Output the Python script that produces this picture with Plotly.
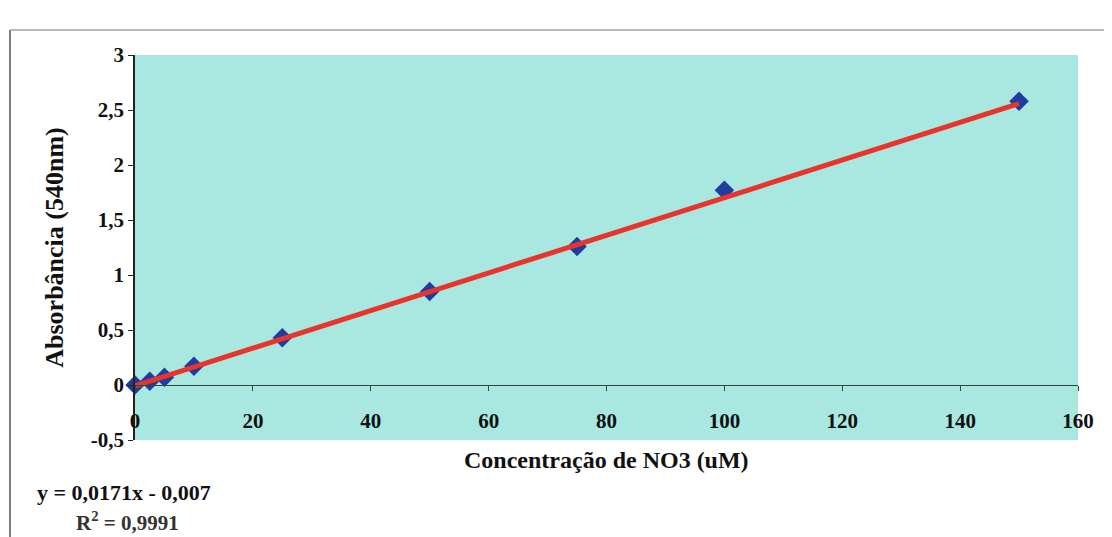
import plotly.graph_objects as go

# Data
concentration_uM = [0, 2.5, 5, 10, 25, 50, 75, 100, 150]
absorbance_540nm = [0, 0.035, 0.07, 0.17, 0.43, 0.85, 1.26, 1.77, 2.58]

# Linear trendline shown on the chart: y = 0,0171x - 0,007
trend_slope = 0.0171
trend_intercept = -0.007
trend_x = [0, 150]

x_ticks = [0, 20, 40, 60, 80, 100, 120, 140, 160]
x_ticklabels = ["0", "20", "40", "60", "80", "100", "120", "140", "160"]
y_ticks = [-0.5, 0, 0.5, 1, 1.5, 2, 2.5, 3]
y_ticklabels = ["-0,5", "0", "0,5", "1", "1,5", "2", "2,5", "3"]

FONT = "Liberation Serif"
OFF = 8                      # page body margin
W, H = 1112 - OFF, 537 - OFF
# target plot area in page pixels
P_L, P_R, P_T, P_B = 135, 1078, 55, 440
ML, MR, MT, MB = P_L - OFF, OFF + W - P_R, P_T - OFF, OFF + H - P_B
plot_w = P_R - P_L
plot_h = P_B - P_T


def px_x(px):
    return (px - P_L) / plot_w


def px_y(py):
    return (P_B - py) / plot_h


fig = go.Figure()

fig.add_trace(go.Scatter(
    x=concentration_uM, y=absorbance_540nm,
    mode="markers",
    marker=dict(symbol="diamond", size=15, color="#1f3c9e",
                line=dict(width=0)),
    showlegend=False, cliponaxis=False,
))

fig.add_trace(go.Scatter(
    x=trend_x, y=[trend_slope * v + trend_intercept for v in trend_x],
    mode="lines",
    line=dict(color="#e8342c", width=5),
    showlegend=False,
))

y_zero_frac = (0 - (-0.5)) / (3 - (-0.5))

fig.update_layout(
    width=W, height=H,
    margin=dict(l=ML, r=MR, t=MT, b=MB),
    paper_bgcolor="white",
    plot_bgcolor="#a8e8e1",
    font=dict(family=FONT, color="#111111", size=20),
    xaxis=dict(
        range=[0, 160], tickvals=x_ticks, ticktext=x_ticklabels,
        showgrid=False, zeroline=False,
        showline=True, linecolor="#2b4a3a", linewidth=1,
        ticks="outside", ticklen=5, tickcolor="#2b4a3a",
        anchor="free", position=y_zero_frac,
        ticklabelstandoff=12,
        tickfont=dict(family=FONT, size=21, color="#111111", weight="bold"),
    ),
    yaxis=dict(
        range=[-0.5, 3], tickvals=y_ticks, ticktext=y_ticklabels,
        showgrid=False, zeroline=False,
        showline=True, linecolor="#222222", linewidth=1.5,
        ticks="outside", ticklen=5, tickcolor="#222222",
        tickfont=dict(family=FONT, size=21, color="#111111", weight="bold"),
        title=dict(text="<b>Absorbância (540nm)</b>",
                   font=dict(family=FONT, size=26, color="#111111"),
                   standoff=20),
    ),
    shapes=[
        dict(type="line", xref="paper", yref="paper",
             x0=px_x(10), x1=px_x(10), y0=px_y(560), y1=px_y(30),
             line=dict(color="#555555", width=1.5)),
        dict(type="line", xref="paper", yref="paper",
             x0=px_x(10), x1=px_x(1130), y0=px_y(30), y1=px_y(30),
             line=dict(color="#777777", width=1.2)),
    ],
    annotations=[
        dict(text="<b>Concentração de NO3 (uM)</b>", xref="paper", yref="paper",
             x=px_x(606), y=px_y(460), xanchor="center", yanchor="middle",
             showarrow=False, font=dict(family=FONT, size=24, color="#111111")),
        dict(text="<b>y = 0,0171x - 0,007</b>", xref="paper", yref="paper",
             x=px_x(35), y=px_y(492), xanchor="left", yanchor="middle",
             showarrow=False, font=dict(family=FONT, size=22, color="#111111")),
        dict(text="<b>R<sup>2</sup> = 0,9991</b>", xref="paper", yref="paper",
             x=px_x(74), y=px_y(521), xanchor="left", yanchor="middle",
             showarrow=False, font=dict(family=FONT, size=21, color="#333333")),
    ],
)

fig.write_html("out.html")
